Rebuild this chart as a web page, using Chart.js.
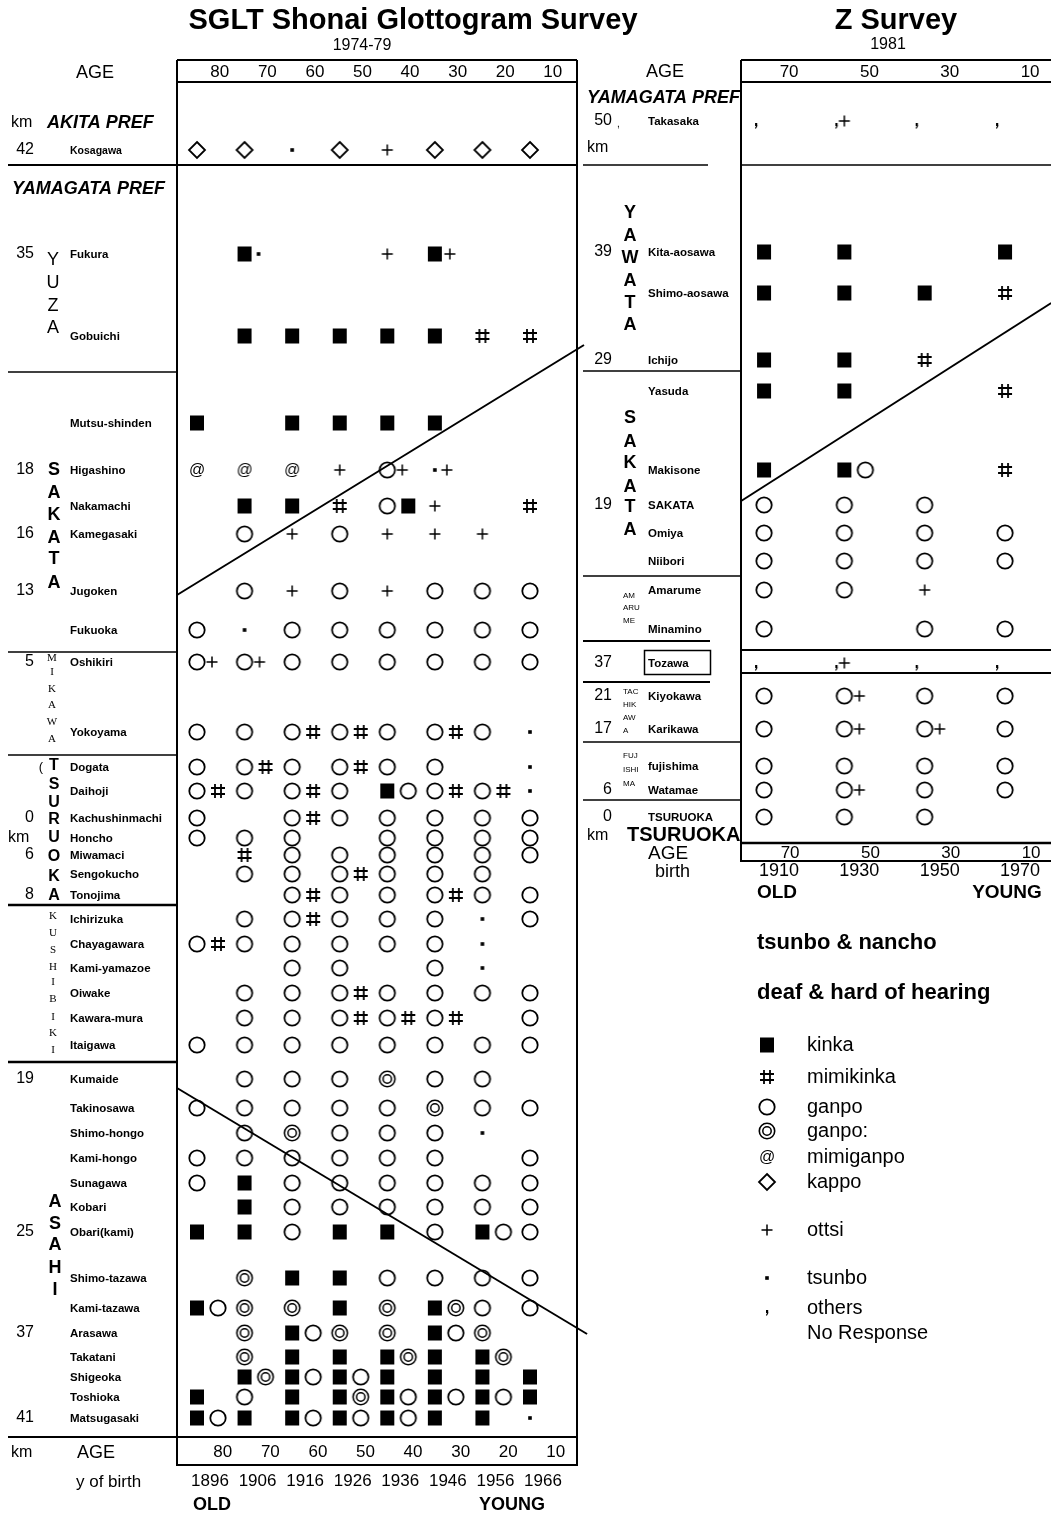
<!DOCTYPE html>
<html>
<head>
<meta charset="utf-8">
<title>Shonai glottogram: tsunbo &amp; nancho</title>
<script src="https://cdn.jsdelivr.net/npm/chart.js@4.4.1/dist/chart.umd.min.js"></script>
<style>
  html, body { margin: 0; padding: 0; background: #fff; }
  #page { position: relative; width: 1051px; height: 1514px; overflow: hidden; }
  #page canvas { position: absolute; left: 0; top: 0; }
</style>
</head>
<body>
<div id="page">
  <canvas id="sglt" width="1051" height="1514"></canvas>
  <canvas id="zsurvey" width="1051" height="1514"></canvas>
</div>
<script>
const FONT = "'Liberation Sans', Arimo, Arial, sans-serif";
const SERIF = "'Liberation Serif', 'DejaVu Serif', serif";

/* Answer codes
   K kinka (filled square)   M mimikinka (#)   G ganpo (circle)   W ganpo: (double circle)
   A mimiganpo (@)   D kappo (diamond)   P ottsi (+)   T tsunbo (dot)   C others / no response (,)
   '-' no entry; two letters = two answers in the same age group. */

// ---- SGLT Shonai Glottogram Survey, 1974-79 ----
const sgltColumnAges = [85, 75, 65, 55, 45, 35, 25, 15];
const sgltAgeTicks = [80, 70, 60, 50, 40, 30, 20, 10];
const sgltBirthYears = ['1896', '1906', '1916', '1926', '1936', '1946', '1956', '1966'];
const sgltPlaces = [
  'Kosagawa', 'Fukura', 'Gobuichi', 'Mutsu-shinden', 'Higashino', 'Nakamachi', 'Kamegasaki',
  'Jugoken', 'Fukuoka', 'Oshikiri', 'Yokoyama', 'Dogata', 'Daihoji', 'Kachushinmachi', 'Honcho',
  'Miwamaci', 'Sengokucho', 'Tonojima', 'Ichirizuka', 'Chayagawara', 'Kami-yamazoe', 'Oiwake',
  'Kawara-mura', 'Itaigawa', 'Kumaide', 'Takinosawa', 'Shimo-hongo', 'Kami-hongo', 'Sunagawa',
  'Kobari', 'Obari(kami)', 'Shimo-tazawa', 'Kami-tazawa', 'Arasawa', 'Takatani', 'Shigeoka',
  'Toshioka', 'Matsugasaki'
];
const sgltKm = [
  '42', '35', '', '', '18', '', '16', '13', '', '5', '', '', '', '0', 'km', '6', '', '8', '', '',
  '', '', '', '', '19', '', '', '', '', '', '25', '', '', '37', '', '', '', '41'
];
// row position, in tenths of the row grid below the age header
const sgltRowY = [
  6.8, 17.2, 25.4, 34.1, 38.8, 42.4, 45.2, 50.9, 54.8, 58.0, 65.0, 68.5, 70.9, 73.6, 75.6,
  77.3, 79.2, 81.3, 83.7, 86.2, 88.6, 91.1, 93.6, 96.3, 99.7, 102.6, 105.1, 107.6, 110.1,
  112.5, 115.0, 119.6, 122.6, 125.1, 127.5, 129.5, 131.5, 133.6
];
const sgltAnswers = [
  'D  D  T  D  P  D  D  D',   // Kosagawa
  '-  KT -  -  P  KP -  -',   // Fukura
  '-  K  K  K  K  K  M  M',   // Gobuichi
  'K  -  K  K  K  K  -  -',   // Mutsu-shinden
  'A  A  A  P  GP TP -  -',   // Higashino
  '-  K  K  M  GK P  -  M',   // Nakamachi
  '-  G  P  G  P  P  P  -',   // Kamegasaki
  '-  G  P  G  P  G  G  G',   // Jugoken
  'G  T  G  G  G  G  G  G',   // Fukuoka
  'GP GP G  G  G  G  G  G',   // Oshikiri
  'G  G  GM GM G  GM G  T',   // Yokoyama
  'G  GM G  GM G  G  -  T',   // Dogata
  'GM G  GM G  KG GM GM T',   // Daihoji
  'G  -  GM G  G  G  G  G',   // Kachushinmachi
  'G  G  G  -  G  G  G  G',   // Honcho
  '-  M  G  G  G  G  G  G',   // Miwamaci
  '-  G  G  GM G  G  G  -',   // Sengokucho
  '-  -  GM G  G  GM G  G',   // Tonojima
  '-  G  GM G  G  G  T  G',   // Ichirizuka
  'GM G  G  G  G  G  T  -',   // Chayagawara
  '-  -  G  G  -  G  T  -',   // Kami-yamazoe
  '-  G  G  GM G  G  G  G',   // Oiwake
  '-  G  G  GM GM GM -  G',   // Kawara-mura
  'G  G  G  G  G  G  G  G',   // Itaigawa
  '-  G  G  G  W  G  G  -',   // Kumaide
  'G  G  G  G  G  W  G  G',   // Takinosawa
  '-  G  W  G  G  G  T  -',   // Shimo-hongo
  'G  G  G  G  G  G  -  G',   // Kami-hongo
  'G  K  G  G  G  G  G  G',   // Sunagawa
  '-  K  G  G  G  G  G  G',   // Kobari
  'K  K  G  K  K  G  KG G',   // Obari(kami)
  '-  W  K  K  G  G  G  G',   // Shimo-tazawa
  'KG W  W  K  W  KW G  G',   // Kami-tazawa
  '-  W  KG W  W  KG W  -',   // Arasawa
  '-  W  K  K  KW K  KW -',   // Takatani
  '-  KW KG KG K  K  K  K',   // Shigeoka
  'K  G  K  KW KG KG KG K',   // Toshioka
  'KG K  KG KG KG K  K  T'    // Matsugasaki
];
// isoglosses: [age, row] end points
const sgltBoundaries = [
  [[89.2, 51.3], [3.65, 26.3]],
  [[89.2, 100.6], [3.0, 125.2]]
];

// ---- Z Survey, 1981 ----
const zColumnAges = [75, 55, 35, 15];
const zAgeTicks = [70, 50, 30, 10];
const zBirthYears = ['1910', '1930', '1950', '1970'];
const zPlaces = [
  'Takasaka', 'Kita-aosawa', 'Shimo-aosawa', 'Ichijo', 'Yasuda', 'Makisone', 'SAKATA', 'Omiya',
  'Niibori', 'Amarume', 'Minamino', 'Tozawa', 'Kiyokawa', 'Karikawa', 'fujishima', 'Watamae', 'TSURUOKA'
];
const zKm = ['50', '39', '', '29', '', '', '19', '', '', '', '', '37', '21', '17', '', '6', '0'];
const zRowY = [3.9, 17.0, 21.1, 27.8, 30.9, 38.8, 42.3, 45.1, 47.9, 50.8, 54.7, 58.1, 61.4, 64.7, 68.4, 70.8, 73.5];
const zAnswers = [
  'C  CP C  C',   // Takasaka
  'K  K  -  K',   // Kita-aosawa
  'K  K  K  M',   // Shimo-aosawa
  'K  K  M  -',   // Ichijo
  'K  K  -  M',   // Yasuda
  'K  KG -  M',   // Makisone
  'G  G  G  -',   // SAKATA
  'G  G  G  G',   // Omiya
  'G  G  G  G',   // Niibori
  'G  G  P  -',   // Amarume
  'G  -  G  G',   // Minamino
  'C  CP C  C',   // Tozawa
  'G  GP G  G',   // Kiyokawa
  'G  GP GP G',   // Karikawa
  'G  G  G  G',   // fujishima
  'G  GP G  G',   // Watamae
  'G  G  G  -'    // TSURUOKA
];
const zBoundaries = [
  [[80.7, 41.9], [3.5, 22.1]]
];

const legendCodes = ['K', 'M', 'G', 'W', 'A', 'D', 'P', 'T', 'C'];
const legendLabels = ['kinka', 'mimikinka', 'ganpo', 'ganpo:', 'mimiganpo', 'kappo', 'ottsi', 'tsunbo', 'others'];

/* ---------- symbol glyphs (used as Chart.js point styles) ---------- */
function drawMark(g, code, cx, cy) {
  g.fillStyle = '#000';
  g.strokeStyle = '#000';
  g.beginPath();
  switch (code) {
    case 'K':
      g.fillRect(cx - 7, cy - 7.5, 14, 15);
      break;
    case 'M':
      g.lineWidth = 1.8;
      g.moveTo(cx - 3, cy - 7); g.lineTo(cx - 3, cy + 7);
      g.moveTo(cx + 3, cy - 7); g.lineTo(cx + 3, cy + 7);
      g.moveTo(cx - 7, cy - 3); g.lineTo(cx + 7, cy - 3);
      g.moveTo(cx - 7, cy + 3); g.lineTo(cx + 7, cy + 3);
      g.stroke();
      break;
    case 'G':
      g.lineWidth = 1.8;
      g.arc(cx, cy, 7.7, 0, Math.PI * 2);
      g.stroke();
      break;
    case 'W':
      g.lineWidth = 1.6;
      g.arc(cx, cy, 7.7, 0, Math.PI * 2);
      g.stroke();
      g.beginPath();
      g.lineWidth = 1.5;
      g.arc(cx, cy, 4.2, 0, Math.PI * 2);
      g.stroke();
      break;
    case 'A':
      g.font = '16px ' + FONT;
      g.textAlign = 'center';
      g.textBaseline = 'middle';
      g.fillText('@', cx, cy + 1);
      break;
    case 'D':
      g.lineWidth = 1.8;
      g.moveTo(cx, cy - 8); g.lineTo(cx + 8, cy); g.lineTo(cx, cy + 8); g.lineTo(cx - 8, cy); g.closePath();
      g.stroke();
      break;
    case 'P':
      g.lineWidth = 1.5;
      g.moveTo(cx - 5.5, cy); g.lineTo(cx + 5.5, cy);
      g.moveTo(cx, cy - 5.5); g.lineTo(cx, cy + 5.5);
      g.stroke();
      break;
    case 'T':
      g.fillRect(cx - 1.8, cy - 1.8, 3.6, 3.6);
      break;
    case 'C':
      g.fillRect(cx - 9, cy + 2, 2.2, 3);
      g.lineWidth = 1.2;
      g.moveTo(cx - 7, cy + 4.5); g.lineTo(cx - 8.6, cy + 7.5);
      g.stroke();
      break;
  }
}

const pairGap = { KT: 14, KP: 15, GP: 15, TP: 12, CP: 0 };
const glyphCache = {};
function glyph(code) {
  if (glyphCache[code]) return glyphCache[code];
  const off = code.length > 1 ? (code in pairGap ? pairGap[code] : 21) : 0;
  const c = document.createElement('canvas');
  c.width = 2 * (off + 13);
  c.height = 28;
  const g = c.getContext('2d');
  const cx = c.width / 2, cy = c.height / 2;
  drawMark(g, code[0], cx, cy);
  if (code.length > 1) drawMark(g, code[1], cx + off, cy);
  glyphCache[code] = c;
  return c;
}

/* ---------- drawing helpers ---------- */
function text(g, s, x, y, font, align, family) {
  g.font = font + ' ' + (family || FONT);
  g.textAlign = align || 'left';
  g.textBaseline = 'middle';
  g.fillStyle = '#000';
  g.fillText(s, x, y);
}
function hline(g, x0, x1, y, w) {
  g.beginPath(); g.lineWidth = w || 1.5; g.strokeStyle = '#000';
  g.moveTo(x0, y); g.lineTo(x1, y); g.stroke();
}
function vline(g, x, y0, y1, w) {
  g.beginPath(); g.lineWidth = w || 1.5; g.strokeStyle = '#000';
  g.moveTo(x, y0); g.lineTo(x, y1); g.stroke();
}
function stack(g, letters, x, ys, font, family) {
  letters.forEach((l, i) => text(g, l, x, ys[i], font, 'center', family));
}

/* ---------- panel decorations ---------- */
function decorateSglt(chart) {
  const g = chart.ctx, xs = chart.scales.x, ys = chart.scales.y;
  g.save();
  text(g, 'SGLT Shonai Glottogram Survey', 413, 21, 'bold 29px', 'center');
  text(g, '1974-79', 362, 46, '16px', 'center');

  // frame of the glottogram
  vline(g, 177, 60, 1466, 2);
  vline(g, 577, 60, 1466, 2);
  hline(g, 177, 577, 60, 2);
  hline(g, 177, 577, 82, 2);
  hline(g, 8, 577, 165, 2);
  hline(g, 8, 577, 1437, 2);
  hline(g, 177, 577, 1465, 2);
  hline(g, 8, 177, 372, 1.6);
  hline(g, 8, 177, 652, 1.6);
  hline(g, 8, 177, 755, 1.6);
  hline(g, 8, 177, 905, 2.4);
  hline(g, 8, 177, 1062, 2.4);

  // age header (top and bottom)
  text(g, 'AGE', 95, 73, '18px', 'center');
  sgltAgeTicks.forEach(t => {
    text(g, String(t), xs.getPixelForValue(t) - 1, 72, '17px', 'center');
    text(g, String(t), xs.getPixelForValue(t) + 2, 1452, '17px', 'center');
  });
  text(g, 'km', 11, 1453, '16px');
  text(g, 'AGE', 77, 1453, '18px');
  text(g, 'y of birth', 76, 1482, '17px');
  sgltBirthYears.forEach((b, i) => text(g, b, xs.getPixelForValue(sgltColumnAges[i]) + 13, 1481, '17px', 'center'));
  text(g, 'OLD', 193, 1505, 'bold 18px');
  text(g, 'YOUNG', 479, 1505, 'bold 18px');

  // prefecture headings
  text(g, 'km', 11, 123, '16px');
  text(g, 'AKITA PREF', 47, 123, 'italic bold 18px');
  text(g, 'YAMAGATA PREF', 12, 189, 'italic bold 18px');

  // localities and distances
  sgltPlaces.forEach((p, i) => {
    const y = ys.getPixelForValue(sgltRowY[i]);
    text(g, p, 70, y + 1, i === 0 ? 'bold 10.5px' : 'bold 11.5px');
    if (sgltKm[i]) {
      if (sgltKm[i] === 'km') text(g, 'km', 8, y, '16px');
      else text(g, sgltKm[i], 34, y, '16px', 'right');
    }
  });

  // municipality names, written vertically
  stack(g, ['Y', 'U', 'Z', 'A'], 53, [260, 283, 306, 328], '18px');
  stack(g, ['S', 'A', 'K', 'A', 'T', 'A'], 54, [470, 493, 515, 538, 559, 583], 'bold 18px');
  stack(g, ['M', 'I', 'K', 'A', 'W', 'A'], 52, [658, 672, 689, 705, 722, 739], '11px', SERIF);
  text(g, '(', 41, 767, '13px', 'center');
  stack(g, ['T', 'S', 'U', 'R', 'U', 'O', 'K', 'A'], 54, [766, 785, 803, 820, 838, 857, 877, 896], 'bold 16px');
  stack(g, ['K', 'U', 'S', 'H', 'I', 'B', 'I', 'K', 'I'], 53, [916, 933, 950, 967, 982, 999, 1017, 1033, 1050], '11px', SERIF);
  stack(g, ['A', 'S', 'A', 'H', 'I'], 55, [1202, 1224, 1245, 1268, 1290], 'bold 18px');
  g.restore();
}

function decorateZ(chart) {
  const g = chart.ctx, xs = chart.scales.x, ys = chart.scales.y;
  g.save();
  text(g, 'Z Survey', 896, 21, 'bold 29px', 'center');
  text(g, '1981', 888, 45, '16px', 'center');

  // frame
  vline(g, 741, 60, 862, 2);
  hline(g, 741, 1051, 60, 2);
  hline(g, 741, 1051, 82, 2);
  hline(g, 741, 1051, 165, 1.4);
  hline(g, 741, 1051, 650, 2);
  hline(g, 741, 1051, 673, 2);
  hline(g, 741, 1051, 843, 2.4);
  hline(g, 741, 1051, 861, 2);
  hline(g, 583, 708, 165, 1.4);
  hline(g, 583, 741, 371, 1.6);
  hline(g, 583, 741, 576, 1.6);
  hline(g, 583, 710, 641, 1.8);
  hline(g, 583, 710, 682, 1.8);
  hline(g, 583, 741, 742, 1.6);
  hline(g, 583, 741, 800, 1.6);
  g.lineWidth = 1.5;
  g.strokeRect(644.5, 650.5, 66, 24);

  // age header and footer
  text(g, 'AGE', 665, 72, '18px', 'center');
  zAgeTicks.forEach(t => {
    text(g, String(t), xs.getPixelForValue(t) + 5, 72, '17px', 'center');
    text(g, String(t), xs.getPixelForValue(t) + 6, 853, '17px', 'center');
  });
  zBirthYears.forEach((b, i) => text(g, b, xs.getPixelForValue(zColumnAges[i]) + 15, 871, '18px', 'center'));
  text(g, 'OLD', 777, 893, 'bold 19px', 'center');
  text(g, 'YOUNG', 1007, 893, 'bold 19px', 'center');

  text(g, 'YAMAGATA PREF', 587, 98, 'italic bold 18px');
  text(g, ',', 617, 124, '10px');
  text(g, 'km', 587, 148, '16px');

  zPlaces.forEach((p, i) => {
    const y = ys.getPixelForValue(zRowY[i]);
    text(g, p, 648, y + 1, 'bold 11.5px');
    if (zKm[i]) text(g, zKm[i], 612, y, '16px', 'right');
  });
  text(g, 'km', 587, 836, '16px');
  text(g, 'TSURUOKA', 627, 835, 'bold 20px');
  text(g, 'AGE', 648, 854, '19px');
  text(g, 'birth', 655, 872, '18px');

  stack(g, ['Y', 'A', 'W', 'A', 'T', 'A'], 630, [213, 236, 258, 281, 303, 325], 'bold 18px');
  stack(g, ['S', 'A', 'K', 'A', 'T', 'A'], 630, [418, 442, 463, 487, 507, 530], 'bold 18px');
  ['AM', 'ARU', 'ME'].forEach((s, i) => text(g, s, 623, [596, 608, 621][i], '8px'));
  ['TAC', 'HIK', 'AW', 'A'].forEach((s, i) => text(g, s, 623, [692, 705, 718, 731][i], '8px'));
  ['FUJ', 'ISHI', 'MA'].forEach((s, i) => text(g, s, 623, [756, 770, 784][i], '8px'));

  // key
  text(g, 'tsunbo & nancho', 757, 943, 'bold 22px');
  text(g, 'deaf & hard of hearing', 757, 993, 'bold 22px');
  const keyY = [1045, 1077, 1107, 1131, 1157, 1182, 1230, 1278, 1308];
  legendCodes.forEach((c, i) => {
    const img = glyph(c);
    const gx = c === 'C' ? 775 : 767;
    g.drawImage(img, Math.round(gx - img.width / 2), Math.round(keyY[i] - img.height / 2));
    text(g, legendLabels[i], 807, keyY[i], '20px');
  });
  text(g, 'No Response', 807, 1333, '20px');
  g.restore();
}

/* ---------- charts ---------- */
function makePanel(canvasId, cfg) {
  const points = [];
  cfg.answers.forEach((row, r) => {
    row.trim().split(/\s+/).forEach((code, c) => {
      if (code !== '-') points.push({ x: cfg.ages[c], y: cfg.rowY[r], code: code });
    });
  });
  const lines = cfg.boundaries.map(b => ({
    data: b.map(p => ({ x: p[0], y: p[1] })),
    showLine: true,
    borderColor: '#000',
    borderWidth: 2,
    pointRadius: 0,
    clip: false
  }));
  return new Chart(document.getElementById(canvasId), {
    type: 'scatter',
    data: {
      datasets: [{
        data: points,
        pointStyle: ctx => (ctx.raw ? glyph(ctx.raw.code) : 'circle'),
        pointRadius: 6,
        clip: false
      }].concat(lines)
    },
    options: {
      responsive: false,
      animation: false,
      devicePixelRatio: 1,
      events: [],
      layout: { padding: cfg.padding, autoPadding: false },
      plugins: { legend: { display: false }, tooltip: { enabled: false } },
      scales: {
        x: { type: 'linear', reverse: true, min: cfg.xMin, max: cfg.xMax, display: false },
        y: { type: 'linear', reverse: true, min: 0, max: cfg.yMax, display: false }
      }
    },
    plugins: [{ id: canvasId + 'Decor', afterDraw: cfg.decorate }]
  });
}

makePanel('sglt', {
  ages: sgltColumnAges, rowY: sgltRowY, answers: sgltAnswers, boundaries: sgltBoundaries,
  xMin: 5.12, xMax: 89.2, yMax: 135.6,
  padding: { left: 177, top: 82, right: 474, bottom: 76 },
  decorate: decorateSglt
});
makePanel('zsurvey', {
  ages: zColumnAges, rowY: zRowY, answers: zAnswers, boundaries: zBoundaries,
  xMin: 3.55, xMax: 80.73, yMax: 76.3,
  padding: { left: 741, top: 82, right: 0, bottom: 669 },
  decorate: decorateZ
});
</script>
</body>
</html>
